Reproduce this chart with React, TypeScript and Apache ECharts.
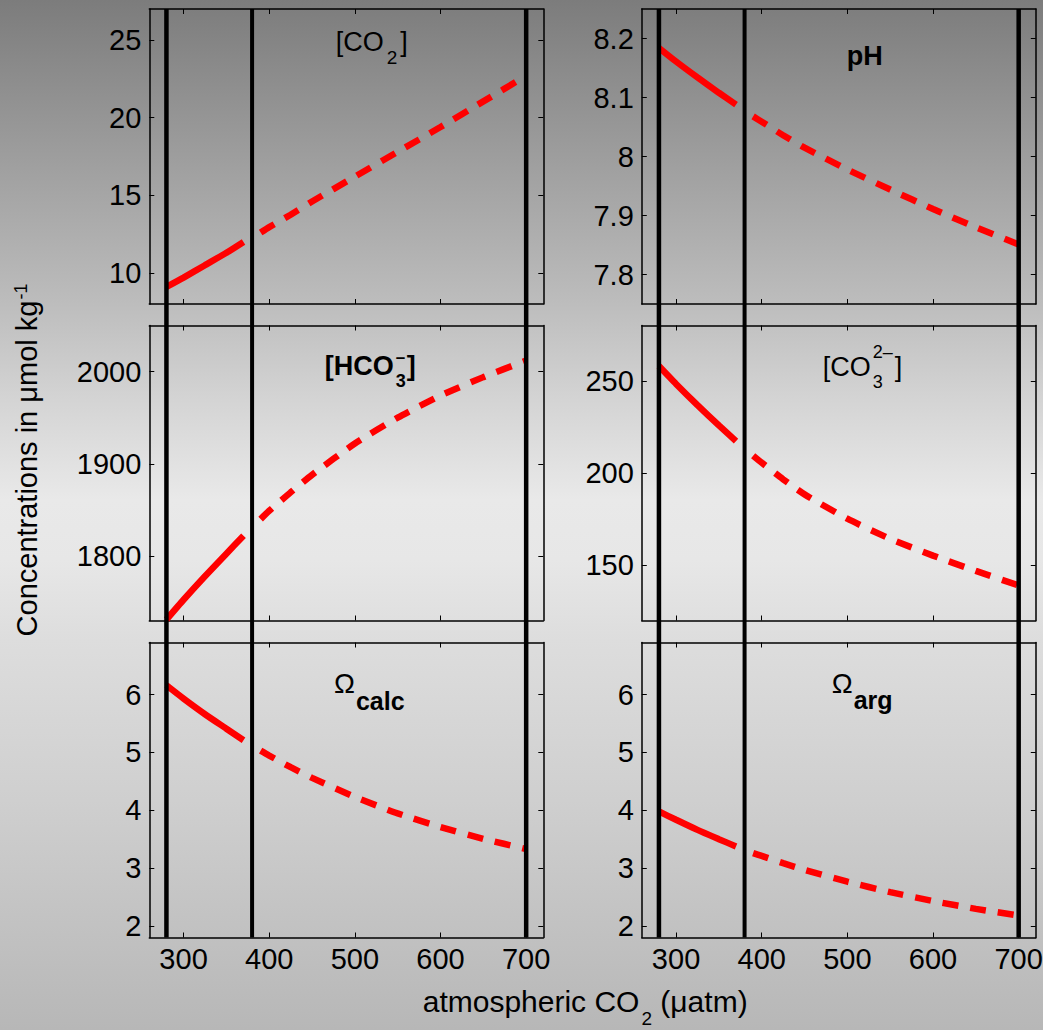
import React, { useEffect, useRef } from "react";
import * as echarts from "echarts";

// ---------------- data ----------------
const X_MIN = 260;
const X_MAX = 720;
const X_TICKS = [300, 400, 500, 600, 700];
const REF_LINES = [280, 380, 700];
const REF_WIDTHS = [4.5, 4, 4.5];

const SOLID_X = [280, 300, 325, 350, 370];
const DASH_X = [390, 400, 425, 450, 500, 550, 600, 650, 700];

const CO2_SOLID = [9.1, 9.7, 10.5, 11.3, 12.0];
const CO2_DASH = [12.6, 12.95, 13.75, 14.6, 16.2, 17.8, 19.4, 21.05, 22.7];
const CO2_TICKS = [10, 15, 20, 25];

const PH_SOLID = [8.184, 8.161, 8.134, 8.108, 8.088];
const PH_DASH = [8.068, 8.059, 8.036, 8.015, 7.978, 7.944, 7.911, 7.88, 7.851];
const PH_TICKS = [7.8, 7.9, 8, 8.1, 8.2];

const HCO3_SOLID = [1731, 1752.5, 1778, 1802.5, 1822];
const HCO3_DASH = [1840, 1849, 1869, 1888, 1922, 1950, 1974, 1994, 2012];
const HCO3_TICKS = [1800, 1900, 2000];

const CO3_SOLID = [258, 248.3, 236.8, 225.8, 217.3];
const CO3_DASH = [209.4, 205.6, 196.6, 188.4, 175.2, 164.3, 155.2, 146.9, 139];
const CO3_TICKS = [150, 200, 250];

const OMC_SOLID = [6.16, 5.93, 5.66, 5.41, 5.21];
const OMC_DASH = [5.03, 4.945, 4.745, 4.56, 4.23, 3.945, 3.71, 3.505, 3.33];
const OMA_SOLID = [3.98, 3.835, 3.66, 3.5, 3.375];
const OMA_DASH = [3.26, 3.21, 3.085, 2.97, 2.765, 2.585, 2.43, 2.295, 2.18];
const OMEGA_TICKS = [2, 3, 4, 5, 6];

const PANELS = [
  { solid: CO2_SOLID, dash: CO2_DASH, min: 8, max: 27, ticks: CO2_TICKS },
  { solid: PH_SOLID, dash: PH_DASH, min: 7.75, max: 8.25, ticks: PH_TICKS },
  { solid: HCO3_SOLID, dash: HCO3_DASH, min: 1730, max: 2050, ticks: HCO3_TICKS },
  { solid: CO3_SOLID, dash: CO3_DASH, min: 120, max: 280, ticks: CO3_TICKS },
  { solid: OMC_SOLID, dash: OMC_DASH, min: 1.8, max: 6.9, ticks: OMEGA_TICKS },
  { solid: OMA_SOLID, dash: OMA_DASH, min: 1.8, max: 6.9, ticks: OMEGA_TICKS },
];

// ---------------- layout ----------------
const W = 1043;
const H = 1030;
const COL_LEFT = [149.3, 641.8];
const ROW_TOP = [9, 325.5, 642.5];
const PW = 394;
const PH = 295;
const FONT = '"Liberation Sans", Arial, Helvetica, sans-serif';
const RED = "#ff0000";
const TICK_FONT = 29;

const BG =
  "linear-gradient(to bottom, #7c7c7c 0px, #9c9c9c 150px, #bcbcbc 300px, #d4d4d4 400px, #e9e9e9 500px, #e7e7e7 560px, #dddddd 640px, #cfcfcf 800px, #b7b7b7 1030px)";

type Piece = { t: string; size: number; bold?: boolean; base: number; dx?: number; stack?: boolean };

let measureCtx: CanvasRenderingContext2D | null = null;
function tw(t: string, size: number, bold?: boolean) {
  if (!measureCtx) measureCtx = document.createElement("canvas").getContext("2d");
  if (!measureCtx) return t.length * size * 0.55;
  measureCtx.font = `${bold ? "bold " : ""}${size}px ${FONT}`;
  return measureCtx.measureText(t).width;
}

function flow(x0: number, pieces: Piece[]) {
  const out: any[] = [];
  let cur = x0;
  let stackW = 0;
  for (const p of pieces) {
    const px = cur + (p.dx || 0);
    const w = tw(p.t, p.size, p.bold);
    out.push({
      type: "text",
      x: px,
      y: p.base - 0.3465 * p.size,
      z: 20,
      silent: true,
      style: {
        text: p.t,
        fontSize: p.size,
        fontWeight: p.bold ? "bold" : "normal",
        fontFamily: FONT,
        fill: "#000",
        align: "left",
        verticalAlign: "middle",
        textAlign: "left",
        textVerticalAlign: "middle",
      },
    });
    if (p.stack) {
      stackW = Math.max(stackW, w);
    } else {
      cur = px + Math.max(w, stackW);
      stackW = 0;
    }
  }
  return { els: out, width: cur - x0 };
}

function buildGraphics() {
  const els: any[] = [];
  // panel titles
  els.push(
    ...flow(335.7, [
      { t: "[CO", size: 27, base: 51.7 },
      { t: "2", size: 19, base: 64, dx: 3 },
      { t: "]", size: 27, base: 51.7, dx: 3 },
    ]).els
  );
  els.push(...flow(846.7, [{ t: "pH", size: 27, bold: true, base: 65 }]).els);
  els.push(
    ...flow(324.7, [
      { t: "[HCO", size: 27, bold: true, base: 375 },
      { t: "\u2013", size: 17, bold: true, base: 363, dx: 2, stack: true },
      { t: "3", size: 18, bold: true, base: 387.7, dx: 2 },
      { t: "]", size: 27, bold: true, base: 375, dx: 1 },
    ]).els
  );
  els.push(
    ...flow(822.7, [
      { t: "[CO", size: 27, base: 376.7 },
      { t: "2\u2013", size: 18, base: 358.3, dx: 2, stack: true },
      { t: "3", size: 18, base: 388.3, dx: 2 },
      { t: "]", size: 27, base: 376.7, dx: 2 },
    ]).els
  );
  els.push(
    ...flow(334, [
      { t: "\u03A9", size: 28, base: 693.3 },
      { t: "calc", size: 25, bold: true, base: 710, dx: 1 },
    ]).els
  );
  els.push(
    ...flow(831.7, [
      { t: "\u03A9", size: 28, base: 693.3 },
      { t: "arg", size: 25, bold: true, base: 709, dx: 1 },
    ]).els
  );
  // x axis title
  els.push(
    ...flow(422.7, [
      { t: "atmospheric CO", size: 30, base: 1012 },
      { t: "2", size: 19, base: 1025, dx: 2 },
      { t: " (\u03BCatm)", size: 30, base: 1012 },
    ]).els
  );
  // y axis title (rotated)
  const yPieces: Piece[] = [
    { t: "Concentrations in \u03BCmol kg", size: 29, base: 37 },
    { t: "-1", size: 18, base: 27, dx: 1 },
  ];
  const total = flow(0, yPieces).width;
  const yt = flow(-total / 2, yPieces);
  els.push({ type: "group", x: 0, y: 460, rotation: Math.PI / 2, children: yt.els });
  return els;
}

function buildOption() {
  const grid: any[] = [];
  const xAxis: any[] = [];
  const yAxis: any[] = [];
  const series: any[] = [];
  const axisLine = { show: true, onZero: false, lineStyle: { color: "#000", width: 1.5 } };
  const plain = (v: number) => String(v);

  PANELS.forEach((p, i) => {
    const r = Math.floor(i / 2);
    const c = i % 2;
    grid.push({
      left: COL_LEFT[c],
      top: ROW_TOP[r],
      width: PW,
      height: PH,
      containLabel: false,
      outerBoundsMode: "none",
    });
    ["bottom", "top"].forEach((pos) => {
      xAxis.push({
        type: "value",
        gridIndex: i,
        min: X_MIN,
        max: X_MAX,
        position: pos,
        axisLine,
        axisTick: {
          show: true,
          inside: true,
          length: 5,
          customValues: X_TICKS,
          lineStyle: { color: "#000", width: 1 },
        },
        axisLabel: {
          show: pos === "bottom" && r === 2,
          customValues: X_TICKS,
          formatter: plain,
          fontSize: TICK_FONT,
          fontFamily: FONT,
          color: "#000",
          margin: 7,
        },
        splitLine: { show: false },
      });
    });
    ["left", "right"].forEach((pos) => {
      yAxis.push({
        type: "value",
        gridIndex: i,
        min: p.min,
        max: p.max,
        position: pos,
        axisLine,
        axisTick: {
          show: true,
          inside: true,
          length: 5,
          customValues: p.ticks,
          lineStyle: { color: "#000", width: 1 },
        },
        axisLabel: {
          show: pos === "left",
          customValues: p.ticks,
          formatter: plain,
          fontSize: TICK_FONT,
          fontFamily: FONT,
          color: "#000",
          margin: 8,
        },
        splitLine: { show: false },
      });
    });
    series.push({
      type: "line",
      xAxisIndex: 2 * i,
      yAxisIndex: 2 * i,
      data: SOLID_X.map((x, k) => [x, p.solid[k]]),
      symbol: "none",
      showSymbol: false,
      smooth: 0.2,
      silent: true,
      z: 2,
      lineStyle: { color: RED, width: 6.5 },
    });
    series.push({
      type: "line",
      xAxisIndex: 2 * i,
      yAxisIndex: 2 * i,
      data: DASH_X.map((x, k) => [x, p.dash[k]]),
      symbol: "none",
      showSymbol: false,
      smooth: 0.2,
      silent: true,
      z: 2,
      lineStyle: { color: RED, width: 6.5, type: [16, 12] },
    });
  });

  // overlay grids for the reference vertical lines (one per column)
  [0, 1].forEach((c) => {
    const gi = grid.length;
    grid.push({
      left: COL_LEFT[c],
      top: ROW_TOP[0],
      width: PW,
      height: ROW_TOP[2] + PH - ROW_TOP[0],
      containLabel: false,
      outerBoundsMode: "none",
    });
    const xi = xAxis.length;
    xAxis.push({ type: "value", gridIndex: gi, min: X_MIN, max: X_MAX, show: false });
    const yi = yAxis.length;
    yAxis.push({ type: "value", gridIndex: gi, min: 0, max: 1, show: false });
    REF_LINES.forEach((x, k) => {
      series.push({
        type: "line",
        xAxisIndex: xi,
        yAxisIndex: yi,
        data: [
          [x, 0],
          [x, 1],
        ],
        symbol: "none",
        showSymbol: false,
        silent: true,
        z: 5,
        lineStyle: { color: "#000", width: REF_WIDTHS[k] },
      });
    });
  });

  return {
    animation: false,
    backgroundColor: "transparent",
    textStyle: { fontFamily: FONT },
    grid,
    xAxis,
    yAxis,
    series,
    graphic: { elements: buildGraphics() },
  };
}

export default function App() {
  const ref = useRef<HTMLDivElement>(null);
  useEffect(() => {
    if (!ref.current) return;
    const chart = echarts.init(ref.current, null, { renderer: "svg", width: W, height: H });
    chart.setOption(buildOption() as any);
    return () => chart.dispose();
  }, []);
  return (
    <div style={{ position: "absolute", left: 0, top: 0, width: W, height: H, background: BG }}>
      <div ref={ref} style={{ width: W, height: H }} />
    </div>
  );
}
